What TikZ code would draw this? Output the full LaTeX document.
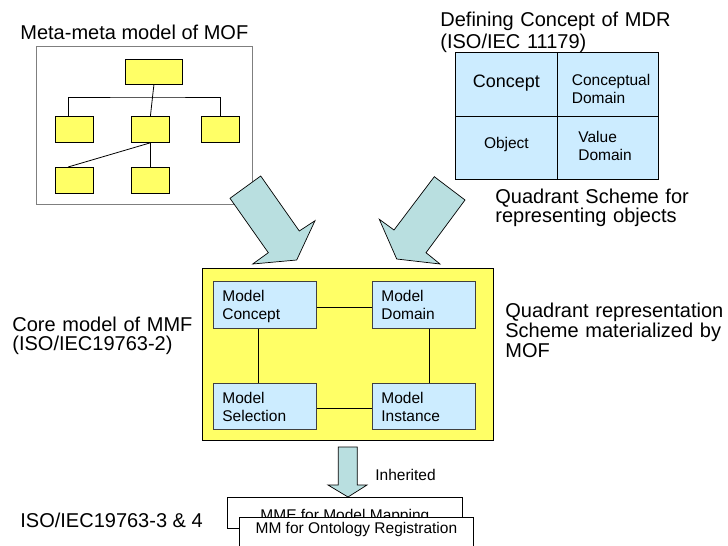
\documentclass[tikz,border=0pt]{standalone}
\usepackage{fontspec}
\setmainfont{Liberation Sans}
\definecolor{myyellow}{HTML}{FFFF66}
\definecolor{cellblue}{HTML}{CCECFF}
\definecolor{arrowteal}{HTML}{B9DFE0}
\definecolor{mofgray}{HTML}{7F7F7F}
\definecolor{boxborder}{HTML}{404040}
\begin{document}
\begin{tikzpicture}[x=1pt,y=-1pt,line width=0.8pt,
  big/.style={font=\fontsize{20}{20}\selectfont, inner sep=0pt, anchor=base west, align=left},
  small/.style={font=\fontsize{15.5}{18}\selectfont},
  yb/.style={draw=black, fill=myyellow, minimum width=38, minimum height=26, inner sep=0pt, anchor=north west},
  tline/.style={draw=black},
  cell/.style={draw=black, fill=cellblue, minimum width=102, minimum height=64, inner sep=0pt, anchor=north west},
  mbox/.style={draw=boxborder, fill=cellblue, minimum width=103, minimum height=47, anchor=north west,
    inner xsep=9pt, inner ysep=0pt, text width=85pt, align=left, small, text height=13pt, text depth=19pt},
  fat/.style={draw=black, fill=arrowteal, line width=0.7pt, line join=miter},
  bottombox/.style={draw=black, fill=white, anchor=north west, inner sep=0pt, small}]
\path[use as bounding box, clip] (0,0) rectangle (728,546);

% Meta-meta model of MOF
\node[big] (moft) at (20,39) {Meta-meta model of MOF};
\node[draw=mofgray, minimum width=216, minimum height=158, anchor=north west, inner sep=0pt] (mof) at (36,46) {};
\node[yb, minimum width=57, minimum height=25] (t0) at (125,59) {};
\node[yb] (m1) at (55,116) {};
\node[yb] (m2) at (131,116) {};
\node[yb] (m3) at (201,116) {};
\node[yb] (b1) at (55,167) {};
\node[yb] (b2) at (131,167) {};
\coordinate (bus) at (151,97);
\draw[tline] (t0.south) -- (m2.north);
\draw[tline] ([xshift=-6.3pt]m1.north) |- (bus) -| (m3.north);
\draw[tline] (m2.south) -- ([xshift=-6.3pt]b1.north);
\draw[tline] (m2.south) -- (b2.north);

% MDR
\node[big, text width=250pt, font=\fontsize{20}{22}\selectfont] (mdrt) at (440,26) {Defining Concept of MDR\\(ISO/IEC 11179)};
\node[cell, font=\fontsize{18}{18}\selectfont, text height=13pt, text depth=7pt] (c1) at (455,52) {Concept};
\node[cell, minimum width=101, small, text width=72pt, align=left, text height=20pt] (c2) at (557,52) {Conceptual\\Domain};
\node[cell, minimum height=63, small, text height=11.3pt, text depth=10pt] (c3) at (455,116) {Object};
\node[cell, minimum width=101, minimum height=63, small, text width=59pt, align=left, text height=6.4pt] (c4) at (557,116) {Value\\Domain};
\node[big, text width=230pt, font=\fontsize{20}{19.5}\selectfont] (qs) at (495,203) {Quadrant Scheme for\\representing objects};

% fat arrows
\draw[fat] (230,198.3) -- (260.7,176) -- (299.3,231) -- (315,220.7) -- (296.7,260) -- (252.7,264) -- (268.3,252.7) -- cycle;
\draw[fat] (434.3,176.7) -- (465,200) -- (426,252.7) -- (440,264) -- (396.7,259) -- (379.3,219.3) -- (394,230) -- cycle;

% Core model
\node[big, text width=200pt, font=\fontsize{20}{19}\selectfont] (coret) at (12,331) {Core model of MMF\\(ISO/IEC19763-2)};
\node[draw=black, fill=myyellow, minimum width=291, minimum height=172, anchor=north west, inner sep=0pt] (core) at (202,268) {};
\node[mbox] (mc) at (213,281) {Model\\Concept};
\node[mbox] (md) at (372,281) {Model\\Domain};
\node[mbox, minimum height=46] (ms) at (213,383) {Model\\Selection};
\node[mbox, minimum height=46] (mi) at (372,383) {Model\\Instance};
\draw[tline] ([yshift=-2.5pt]mc.east) -- ([yshift=-2.5pt]md.west);
\draw[tline] ([xshift=-6.5pt]mc.south) -- ([xshift=-6.5pt]ms.north);
\draw[tline] ([xshift=5.5pt]md.south) -- ([xshift=5.5pt]mi.north);
\draw[tline] ([yshift=-2pt]ms.east) -- ([yshift=-2pt]mi.west);
\node[big, text width=240pt] (qrt) at (505,317) {Quadrant representation\\Scheme materialized by\\MOF};

% Inherited
\draw[fat] (338.3,447) -- (357.3,447) -- (357.3,485) -- (367,485) -- (348,497) -- (328,485) -- (338.3,485) -- cycle;
\node[small, anchor=base west, inner sep=0pt] (inh) at (375,480) {Inherited};
\node[big] (isot) at (20,527) {ISO/IEC19763-3 \& 4};
\node[bottombox, minimum width=235, minimum height=31, text height=15pt, text depth=0pt] (mme) at (227,497) {MME for Model Mapping};
\node[bottombox, minimum width=234, minimum height=32, text height=6pt, text depth=6pt] (mmo) at (239,517) {MM for Ontology Registration};
\end{tikzpicture}
\end{document}
